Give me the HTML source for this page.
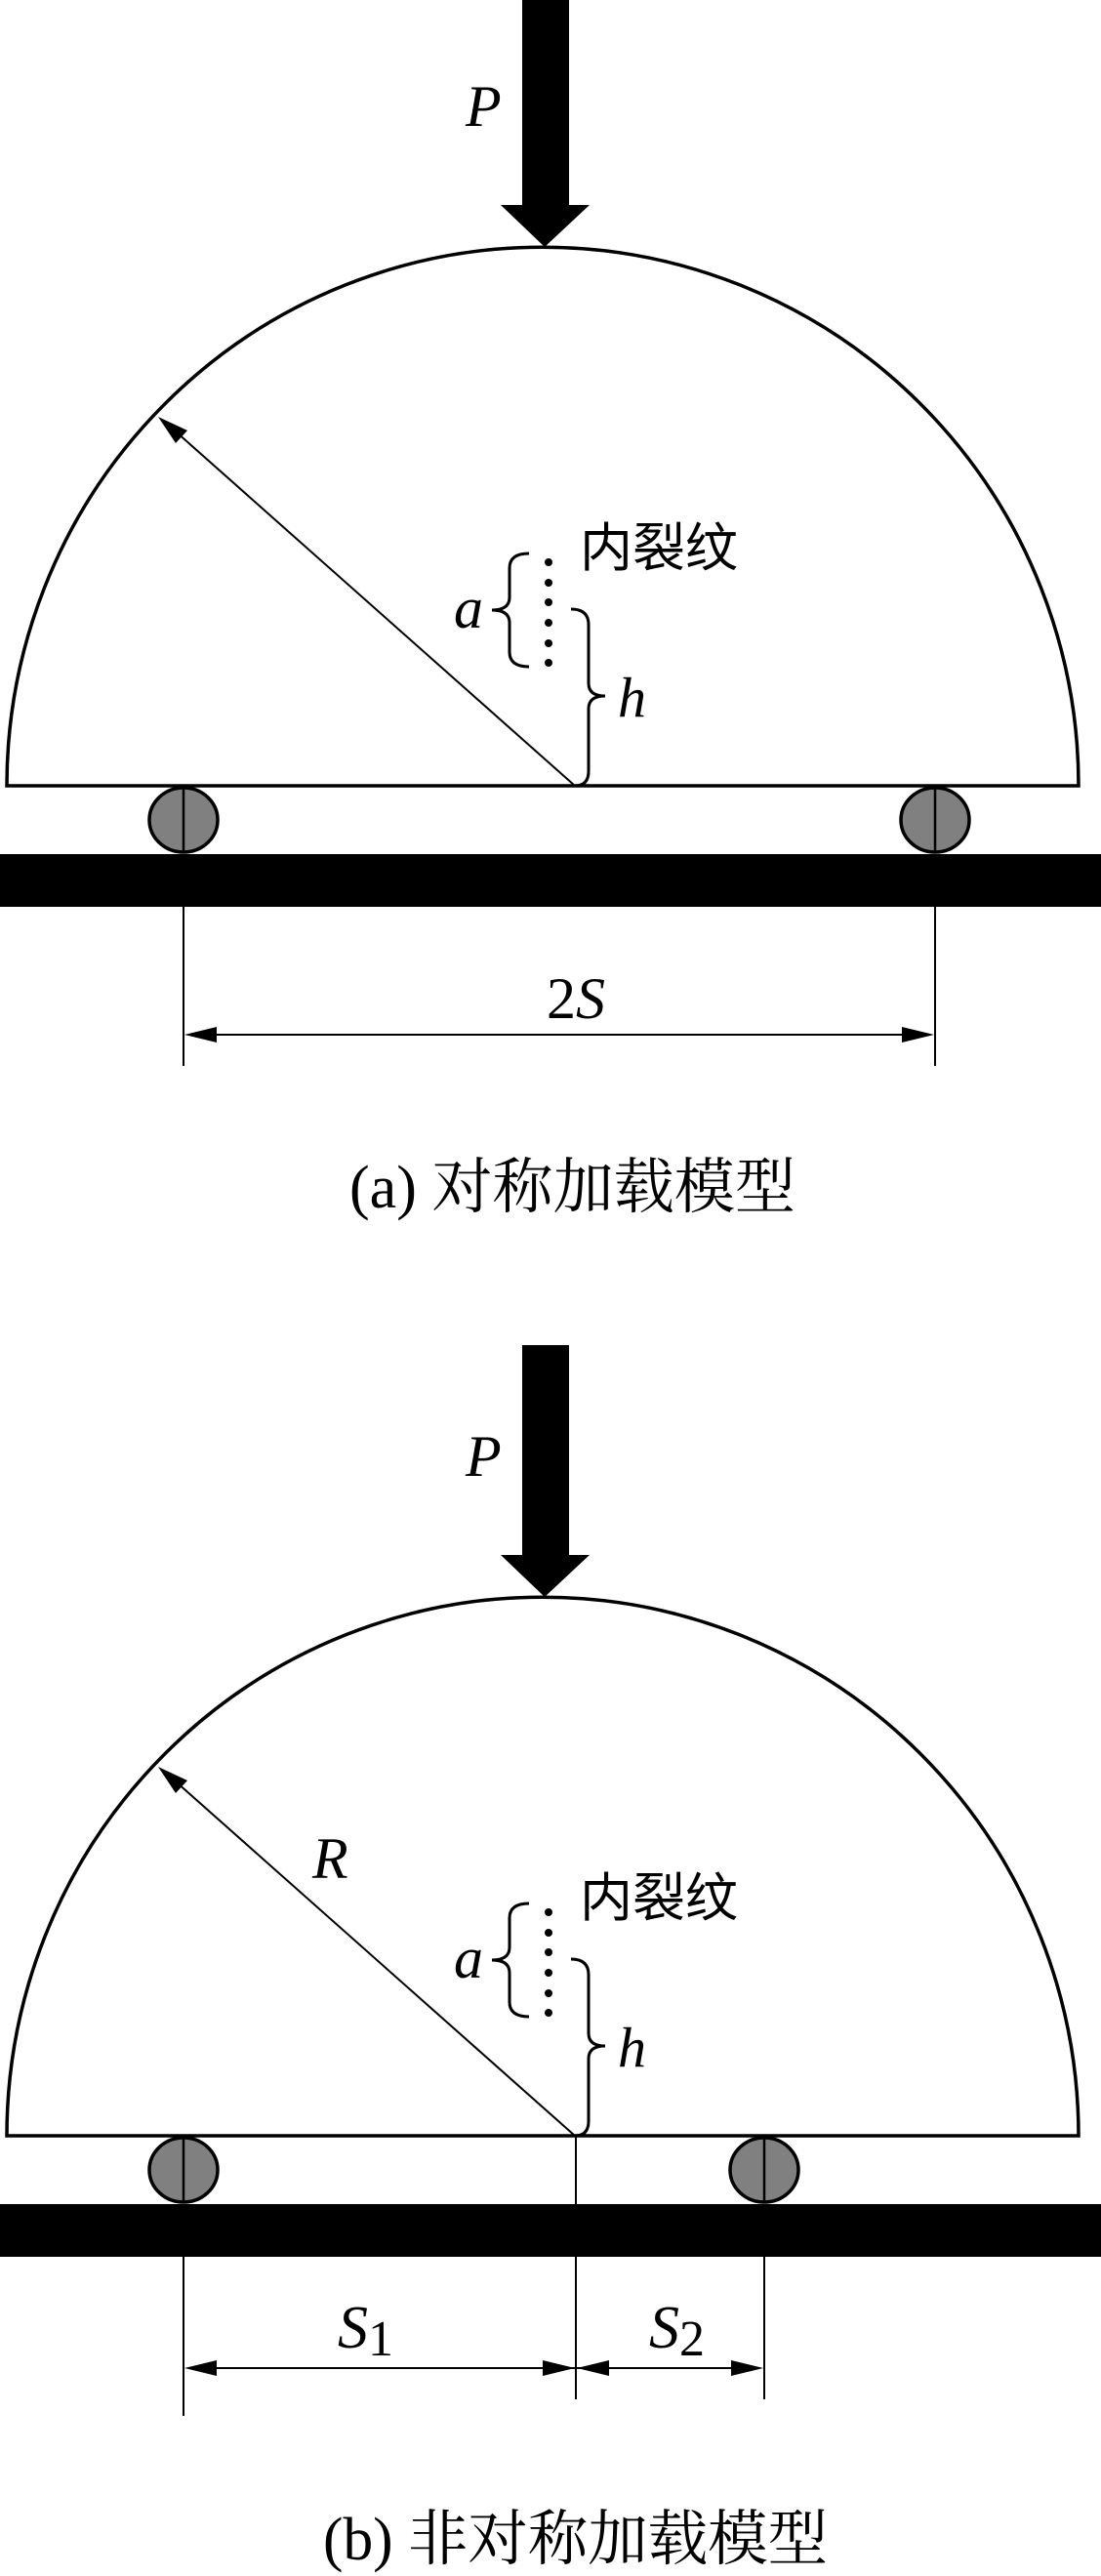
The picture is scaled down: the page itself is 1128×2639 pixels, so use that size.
<!DOCTYPE html>
<html><head><meta charset="utf-8"><style>
html,body{margin:0;padding:0;background:#fff;}
svg{display:block;}
.it{font-family:"Liberation Serif",serif;font-style:italic;}
.cj{font-family:"Liberation Serif","Noto Serif CJK SC",serif;}
.cs{font-family:"Liberation Sans","Noto Sans CJK SC",sans-serif;}
</style></head><body>
<svg width="1128" height="2639" viewBox="0 0 1128 2639" xmlns="http://www.w3.org/2000/svg">
<defs>
<g id="common">
  <!-- load arrow -->
  <rect x="535" y="-5" width="48" height="216" fill="#000"/>
  <polygon points="513,210 604,210 558,253" fill="#000"/>
  <!-- semi ellipse -->
  <path d="M7,805 A549,552 0 0 1 1105,805 Z" fill="none" stroke="#000" stroke-width="3.5"/>
  <!-- radius line -->
  <line x1="589" y1="805" x2="172" y2="435" stroke="#000" stroke-width="2"/>
  <polygon points="162,427 192,441 180,454" fill="#000"/>
  <!-- crack dots -->
  <g fill="#000">
    <circle cx="562" cy="576" r="4"/><circle cx="562" cy="597" r="4"/>
    <circle cx="562" cy="617" r="4"/><circle cx="562" cy="638" r="4"/>
    <circle cx="562" cy="659" r="4"/><circle cx="562" cy="679" r="4"/>
  </g>
  <!-- a brace -->
  <path d="M542,567 Q522,567 522,582 L522,612 Q522,625 504,625 Q522,625 522,638 L522,668 Q522,683 542,683" fill="none" stroke="#000" stroke-width="3"/>
  <!-- h brace -->
  <path d="M585,624 Q603,624 603,640 L603,700 Q603,713 620,713 Q603,713 603,726 L603,790 Q603,805 589,805" fill="none" stroke="#000" stroke-width="3"/>
  <text x="465" y="643" class="it" font-size="60">a</text>
  <text x="633" y="734" class="it" font-size="58">h</text>
  <text x="594" y="580" class="cs" font-size="54">内裂纹</text>
  <text x="477" y="129" class="it" font-size="60">P</text>
  <!-- bar -->
  <rect x="0" y="875" width="1128" height="54" fill="#000"/>
  <!-- left roller -->
  <ellipse cx="188" cy="840" rx="35" ry="33" fill="#808080" stroke="#000" stroke-width="3.5"/>
  <line x1="188" y1="807" x2="188" y2="873" stroke="#000" stroke-width="2.5"/>
  <line x1="188" y1="929" x2="188" y2="1092" stroke="#000" stroke-width="2"/>
</g>
</defs>

<!-- Panel a -->
<use href="#common"/>
<ellipse cx="958" cy="840" rx="35" ry="33" fill="#808080" stroke="#000" stroke-width="3.5"/>
<line x1="958" y1="807" x2="958" y2="873" stroke="#000" stroke-width="2.5"/>
<line x1="958" y1="929" x2="958" y2="1092" stroke="#000" stroke-width="2"/>
<line x1="200" y1="1060" x2="946" y2="1060" stroke="#000" stroke-width="2"/>
<polygon points="189,1060 222,1052 222,1068" fill="#000"/>
<polygon points="957,1060 924,1052 924,1068" fill="#000"/>
<text x="560" y="1043" class="it" font-size="60"><tspan font-style="normal">2</tspan>S</text>
<text x="358" y="1237" class="cj" font-size="62" textLength="457" lengthAdjust="spacingAndGlyphs">(a) 对称加载模型</text>

<!-- Panel b -->
<g transform="translate(0,1383)">
  <use href="#common"/>
  <ellipse cx="783" cy="840" rx="35" ry="33" fill="#808080" stroke="#000" stroke-width="3.5"/>
  <line x1="783" y1="807" x2="783" y2="873" stroke="#000" stroke-width="2.5"/>
  <line x1="783" y1="929" x2="783" y2="1075" stroke="#000" stroke-width="2"/>
  <line x1="590" y1="805" x2="590" y2="1075" stroke="#000" stroke-width="2"/>
  <line x1="200" y1="1043" x2="772" y2="1043" stroke="#000" stroke-width="2"/>
  <polygon points="189,1043 222,1035 222,1051" fill="#000"/>
  <polygon points="589,1043 556,1035 556,1051" fill="#000"/>
  <polygon points="591,1043 624,1035 624,1051" fill="#000"/>
  <polygon points="782,1043 749,1035 749,1051" fill="#000"/>
  <text x="320" y="541" class="it" font-size="60">R</text>
  <text x="346" y="1022" class="it" font-size="62">S<tspan font-style="normal" font-size="52" dy="8">1</tspan></text>
  <text x="665" y="1022" class="it" font-size="62">S<tspan font-style="normal" font-size="52" dy="8">2</tspan></text>
</g>
<text x="331" y="2622" class="cj" font-size="62" textLength="517" lengthAdjust="spacingAndGlyphs">(b) 非对称加载模型</text>
</svg>
</body></html>
